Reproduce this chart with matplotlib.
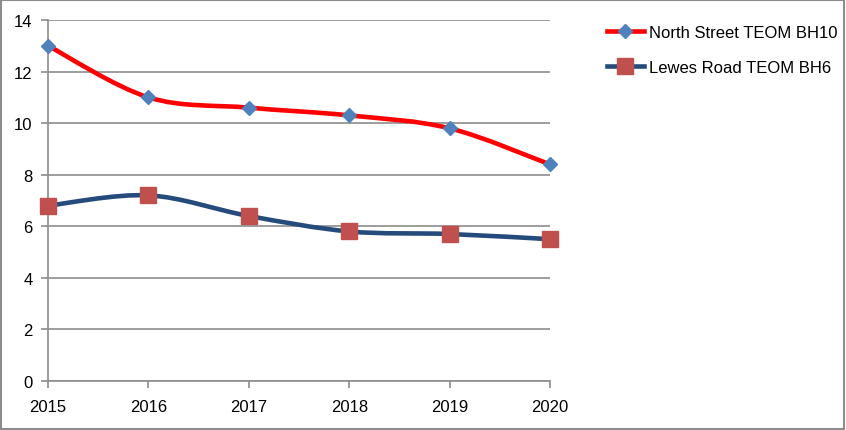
import numpy as np
import matplotlib.pyplot as plt
from matplotlib.path import Path
from matplotlib.patches import PathPatch
from matplotlib.lines import Line2D

years = [2015, 2016, 2017, 2018, 2019, 2020]
north_street = [13.0, 11.0, 10.6, 10.3, 9.8, 8.4]
lewes_road = [6.8, 7.2, 6.4, 5.8, 5.7, 5.5]

plt.rcParams['font.family'] = ['Liberation Sans', 'DejaVu Sans']


def smooth_path(xs, ys):
    # Excel style smoothed line: cubic bezier through the points
    pts = np.column_stack([xs, ys]).astype(float)
    ext = np.vstack([pts[0], pts, pts[-1]])
    verts = [pts[0]]
    codes = [Path.MOVETO]
    for i in range(len(pts) - 1):
        p0, p1, p2, p3 = ext[i], ext[i + 1], ext[i + 2], ext[i + 3]
        verts += [p1 + (p2 - p0) / 6, p2 - (p3 - p1) / 6, p2]
        codes += [Path.CURVE4] * 3
    return Path(verts, codes)


fig = plt.figure(figsize=(8.46, 4.31), dpi=100)
ax = fig.add_axes([48 / 846, 49 / 431, 502 / 846, 361 / 431])

ax.add_patch(PathPatch(smooth_path(years, north_street), fill=False,
                       edgecolor='#FF0000', lw=3.3, capstyle='round', zorder=3))
ax.add_patch(PathPatch(smooth_path(years, lewes_road), fill=False,
                       edgecolor='#254A7C', lw=3.3, capstyle='round', zorder=3))
ax.plot(years, north_street, linestyle='none', marker='D', markersize=7.5,
        color='#4F81BD', zorder=4, clip_on=False)
ax.plot(years, lewes_road, linestyle='none', marker='s', markersize=11,
        color='#C0504D', zorder=4, clip_on=False)

ax.set_xlim(2015, 2020)
ax.set_ylim(0, 14)
ax.set_yticks(range(0, 15, 2))
ax.set_xticks(years)
ax.grid(axis='y', color='#8C8C8C', lw=1.2)
ax.set_axisbelow(True)
for s in ['top', 'right']:
    ax.spines[s].set_visible(False)
for s in ['left', 'bottom']:
    ax.spines[s].set_color('#8C8C8C')
    ax.spines[s].set_linewidth(1.2)
ax.tick_params(axis='both', colors='#8C8C8C', length=5, width=1.2,
               labelcolor='#000000', labelsize=12)
ax.tick_params(axis='y', pad=6)
ax.tick_params(axis='x', pad=8)

handles = [
    Line2D([], [], color='#FF0000', lw=3.3, marker='D', markersize=7.5,
           markerfacecolor='#4F81BD', markeredgecolor='#4F81BD'),
    Line2D([], [], color='#254A7C', lw=3.3, marker='s', markersize=11,
           markerfacecolor='#C0504D', markeredgecolor='#C0504D'),
]
fig.legend(handles, ['North Street TEOM BH10', 'Lewes Road TEOM BH6'],
           loc='upper left', bbox_to_anchor=(592 / 846, 1 - 11 / 431),
           frameon=False, fontsize=12, handlelength=2.2, handletextpad=0.3,
           labelspacing=1.2)

fig.patches.append(plt.Rectangle((0.001, 0.002), 0.997, 0.995,
                                 transform=fig.transFigure, fill=False,
                                 edgecolor='#8C8C8C', lw=1.5))

fig.savefig('out.png', dpi=100)
